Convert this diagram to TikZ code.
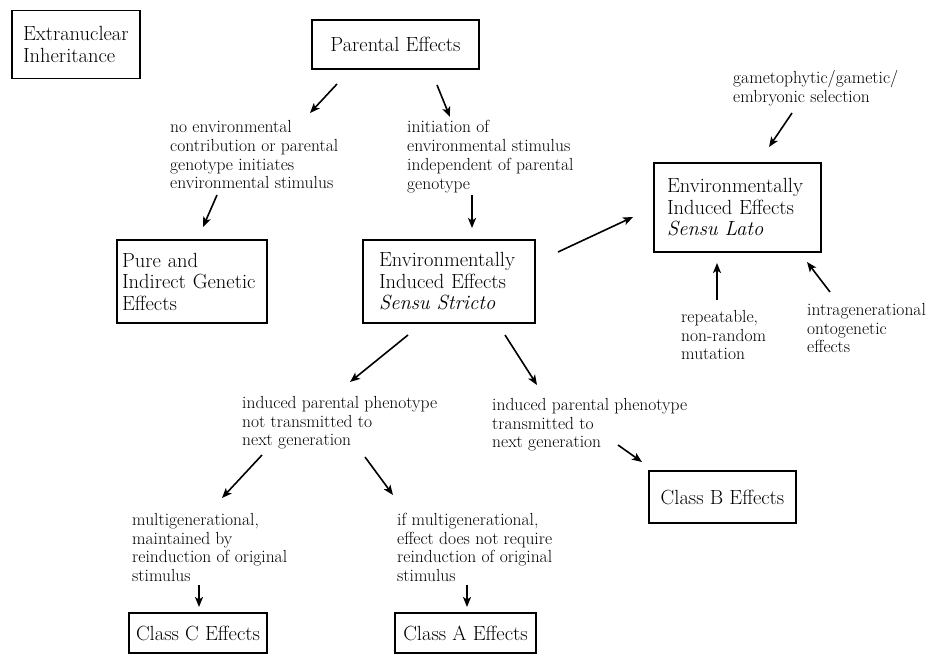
\documentclass[tikz,border=0pt]{standalone}
\usetikzlibrary{arrows.meta}
\tikzset{
 box/.style={draw, line width=1.9pt, inner sep=0pt, align=left, font=\fontsize{20.5}{21.5}\selectfont},
 lbl/.style={inner sep=0pt, anchor=north west, align=left, font=\fontsize{17.5}{18.7}\selectfont},
 arr/.style={line width=1.6pt, -{Stealth[length=10pt,width=8pt,inset=2.5pt]}},
}
\begin{document}
\begin{tikzpicture}[x=1pt,y=-1pt]
\useasboundingbox[fill=white] (0,0) rectangle (928,656);
% boxes
\node[box, minimum width=128pt, minimum height=68pt, text width=106pt] (ext) at (76,44.5) {Extranuclear\\Inheritance};
\node[box, minimum width=167pt, minimum height=49pt] (par) at (395.5,44.5) {Parental Effects};
\node[box, minimum width=150pt, minimum height=83pt, text width=140pt] (pure) at (192,281.5) {Pure and\\Indirect Genetic\\Effects};
\node[box, minimum width=172pt, minimum height=83pt, text width=140pt] (ss) at (449,281.5) {Environmentally\\Induced Effects\\\textit{Sensu Stricto}};
\node[box, minimum width=167pt, minimum height=89pt, text width=141pt] (sl) at (737.5,207.5) {Environmentally\\Induced Effects\\\textit{Sensu Lato}};
\node[box, minimum width=147pt, minimum height=52pt] (clb) at (722.5,497) {Class B Effects};
\node[box, minimum width=138pt, minimum height=40pt] (clc) at (198,633) {Class C Effects};
\node[box, minimum width=141pt, minimum height=40pt] (cla) at (465.5,633) {Class A Effects};
% labels
\node[lbl] (nogen) at (170,120.5) {no environmental\\contribution or parental\\genotype initiates\\environmental stimulus};
\node[lbl] (init) at (407,120.5) {initiation of\\environmental stimulus\\independent of parental\\genotype};
\node[lbl] (gam) at (733,70) {gametophytic/gametic/\\embryonic selection};
\node[lbl] (rep) at (681,310) {repeatable,\\non-random\\mutation};
\node[lbl] (intra) at (807,303) {intragenerational\\ontogenetic\\effects};
\node[lbl] (nott) at (242,396) {induced parental phenotype\\not transmitted to\\next generation};
\node[lbl] (trans) at (492,398) {induced parental phenotype\\transmitted to\\next generation};
\node[lbl] (multi) at (132,513) {multigenerational,\\maintained by\\reinduction of original\\stimulus};
\node[lbl] (ifm) at (397,513) {if multigenerational,\\effect does not require\\reinduction of original\\stimulus};
% arrow end points
\coordinate (a1s) at (337,84);  \coordinate (a1e) at (310,113);
\coordinate (a2s) at (437,85);  \coordinate (a2e) at (450,117);
\coordinate (a3s) at (472,195); \coordinate (a3e) at (472,228);
\coordinate (a4s) at (217,195); \coordinate (a4e) at (203,227);
\coordinate (a5s) at (558,252); \coordinate (a5e) at (633,217);
\coordinate (a6s) at (792,113); \coordinate (a6e) at (769,147);
\coordinate (a7s) at (717,300); \coordinate (a7e) at (717,263);
\coordinate (a8s) at (830,292); \coordinate (a8e) at (807,262);
\coordinate (a9s) at (408,335); \coordinate (a9e) at (350,382);
\coordinate (a10s) at (505,335); \coordinate (a10e) at (537,385);
\coordinate (a11s) at (618,445); \coordinate (a11e) at (642,462);
\coordinate (a12s) at (262,455); \coordinate (a12e) at (222,498);
\coordinate (a13s) at (365,457); \coordinate (a13e) at (393,495);
\coordinate (a14s) at (199,585); \coordinate (a14e) at (199,607);
\coordinate (a15s) at (467,585); \coordinate (a15e) at (467,607);
\foreach \i in {1,...,15} {\draw[arr] (a\i s) -- (a\i e);}
\end{tikzpicture}
\end{document}
